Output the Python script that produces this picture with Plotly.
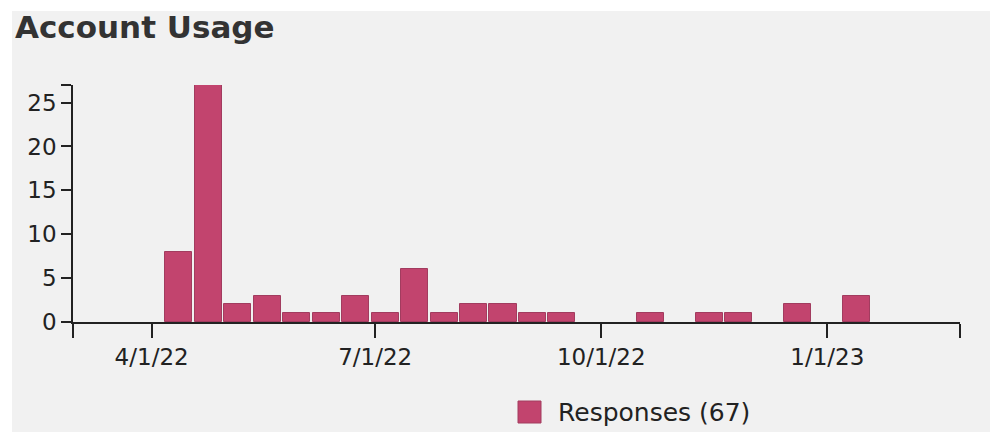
import plotly.graph_objects as go

# Response counts per 12-day bin (bin centre dates)
bin_dates = [
    "2022-04-12", "2022-04-24", "2022-05-06", "2022-05-18", "2022-05-30",
    "2022-06-11", "2022-06-23", "2022-07-05", "2022-07-17", "2022-07-29",
    "2022-08-10", "2022-08-22", "2022-09-03", "2022-09-15", "2022-10-21",
    "2022-11-14", "2022-11-26", "2022-12-20", "2023-01-13",
]
responses = [8, 27, 2, 3, 1, 1, 3, 1, 6, 1, 2, 2, 1, 1, 1, 1, 1, 2, 3]

# Axis ticks
x_start, x_end = "2022-02-28", "2023-02-24"
tick_dates = ["2022-04-01", "2022-07-01", "2022-10-01", "2023-01-01"]
tick_labels = ["4/1/22", "7/1/22", "10/1/22", "1/1/23"]
y_ticks = [0, 5, 10, 15, 20, 25]

BAR = "#c2446e"
BAR_EDGE = "#a23c5f"
BG = "#f1f1f1"
INK = "#222222"
DAY_MS = 86400000

y_max = max(responses)
total = sum(responses)

fig = go.Figure()
fig.add_trace(go.Bar(
    x=bin_dates,
    y=responses,
    width=[11 * DAY_MS] * len(bin_dates),
    marker=dict(color=BAR, line=dict(color=BAR_EDGE, width=1)),
    name=f"Responses ({total})",
    showlegend=False,
))

W, H = 990, 432
ml, mr, mt, mb = 73, 30, 85, 110
pw, ph = W - ml - mr, H - mt - mb


def px_x(p):
    return (p - ml) / pw


def px_y(p):
    return (H - mb - p) / ph


shapes = [
    # grey card behind the chart
    dict(type="rect", xref="paper", yref="paper", layer="below",
         x0=px_x(12), x1=px_x(W + 20), y0=px_y(H + 20), y1=px_y(11),
         fillcolor=BG, line=dict(width=0)),
    # legend swatch
    dict(type="rect", xref="paper", yref="paper",
         x0=px_x(518), x1=px_x(541), y0=px_y(423), y1=px_y(401),
         fillcolor=BAR, line=dict(color=BAR_EDGE, width=1)),
]

annotations = [
    dict(text=f"Responses ({total})", xref="paper", yref="paper",
         x=px_x(556), y=px_y(412), xanchor="left", yanchor="middle",
         showarrow=False, font=dict(family="DejaVu Sans", size=25, color=INK)),
]

fig.update_layout(
    width=W, height=H,
    margin=dict(l=ml, r=mr, t=mt, b=mb),
    paper_bgcolor="white",
    plot_bgcolor="rgba(0,0,0,0)",
    title=dict(
        text="<b>Account Usage</b>",
        x=15 / W, xanchor="left", xref="container",
        y=1 - 27 / H, yanchor="middle", yref="container",
        font=dict(family="DejaVu Sans", size=31, color="#333333"),
    ),
    shapes=shapes,
    annotations=annotations,
    bargap=0,
)

fig.update_xaxes(
    type="date",
    range=[x_start, x_end],
    tickvals=[x_start] + tick_dates + [x_end],
    ticktext=[""] + tick_labels + [""],
    ticks="outside", ticklen=14, tickwidth=1.5, tickcolor=INK,
    showline=True, linecolor=INK, linewidth=1.5,
    showgrid=False, zeroline=False,
    tickfont=dict(family="DejaVu Sans", size=23, color=INK),
)

fig.update_yaxes(
    range=[0, y_max],
    tickvals=y_ticks + [y_max],
    ticktext=[str(v) for v in y_ticks] + [""],
    ticks="outside", ticklen=10, tickwidth=1.5, tickcolor=INK,
    showline=True, linecolor=INK, linewidth=1.5,
    showgrid=False, zeroline=False,
    tickfont=dict(family="DejaVu Sans", size=23, color=INK),
)

fig.write_html("out.html")
